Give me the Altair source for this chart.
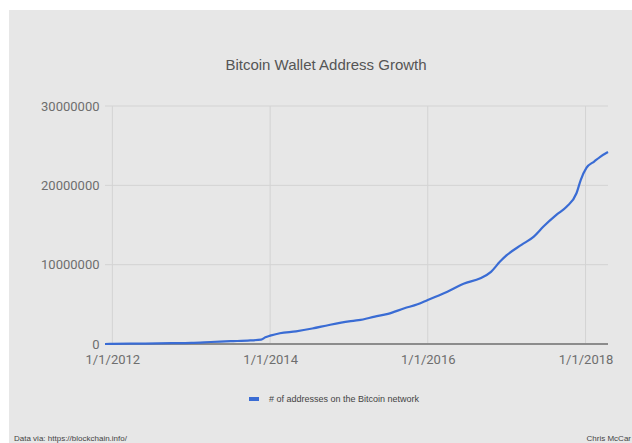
import altair as alt
import pandas as pd

dates = [
    "2011-11-28", "2012-01-01", "2012-06-01", "2012-10-01", "2013-01-01",
    "2013-04-01", "2013-07-01", "2013-10-01", "2013-11-20", "2013-12-10",
    "2014-01-01", "2014-02-15", "2014-05-01", "2014-07-15", "2014-10-01",
    "2015-01-01", "2015-02-15", "2015-05-01", "2015-07-01", "2015-09-15",
    "2015-11-15", "2016-01-01", "2016-04-01", "2016-06-15", "2016-09-01",
    "2016-10-20", "2016-12-01", "2017-01-01", "2017-03-10", "2017-05-05",
    "2017-06-20", "2017-08-20", "2017-10-05", "2017-11-20", "2017-12-10",
    "2018-01-05", "2018-02-10", "2018-03-10", "2018-04-15",
]
values = [
    0.0, 0.02, 0.05, 0.1, 0.15,
    0.25, 0.35, 0.45, 0.55, 0.85,
    1.05, 1.35, 1.6, 1.95, 2.4,
    2.85, 3.0, 3.45, 3.8, 4.5,
    5.0, 5.55, 6.6, 7.6, 8.3,
    9.1, 10.4, 11.2, 12.5, 13.5,
    14.8, 16.3, 17.3, 19.0, 20.7,
    22.2, 23.0, 23.6, 24.2,
]
series_name = "# of addresses on the Bitcoin network"
y_ticks = [0, 10000000, 20000000, 30000000]
x_ticks = ["2012-01-01", "2014-01-01", "2016-01-01", "2018-01-01"]
title_text = "Bitcoin Wallet Address Growth"
footer_left = "Data via: https://blockchain.info/"
footer_right = "Chris McCar"

df = pd.DataFrame({
    "date": pd.to_datetime(dates),
    "value": [v * 1e6 for v in values],
    "series": series_name,
})
xt_df = pd.DataFrame({"date": pd.to_datetime(x_ticks)})
yt_df = pd.DataFrame({"value": y_ticks})
zero_df = pd.DataFrame({"value": [0]})

W, H = 503, 238
PL, PT = 105, 106

x_scale = alt.Scale(domain=["2011-11-28", "2018-04-15"])
y_scale = alt.Scale(domain=[0, 30000000], nice=False)

x_axis = alt.Axis(
    title=None,
    values=[pd.Timestamp(t).isoformat() for t in x_ticks],
    labelExpr="timeFormat(datum.value, '%-m/%-d/%Y')",
    grid=False, ticks=False, domain=False, zindex=1,
    labelFont="Roboto", labelFontSize=13, labelColor="#6e6e6e",
    labelPadding=9, labelFlush=False, labelOverlap=False,
)
y_axis = alt.Axis(
    title=None, values=y_ticks, format="d",
    grid=False, ticks=False, domain=False, zindex=1,
    labelFont="Roboto", labelFontSize=13, labelColor="#6e6e6e",
    labelPadding=6,
)

bg = alt.Chart(alt.Data(values=[{}])).mark_rect(color="#e7e7e7").encode(
    x=alt.value(9 - PL), x2=alt.value(632 - PL + 5),
    y=alt.value(10 - PT), y2=alt.value(443 - PT + 5),
)

vgrid = alt.Chart(xt_df).mark_rule(color="#d3d3d3", strokeWidth=1).encode(
    x=alt.X("date:T", scale=x_scale, axis=x_axis),
)
hgrid = alt.Chart(yt_df).mark_rule(color="#d3d3d3", strokeWidth=1).encode(
    y=alt.Y("value:Q", scale=y_scale, axis=y_axis),
)
zero = alt.Chart(zero_df).mark_rule(color="#8c8c8c", strokeWidth=2).encode(
    y=alt.Y("value:Q", scale=y_scale, axis=y_axis),
)

line = alt.Chart(df).mark_line(strokeWidth=2.2, interpolate="monotone").encode(
    x=alt.X("date:T", scale=x_scale, axis=x_axis),
    y=alt.Y("value:Q", scale=y_scale, axis=y_axis),
    color=alt.Color(
        "series:N",
        scale=alt.Scale(range=["#3a6cd4"]),
        legend=alt.Legend(
            title=None, orient="none", legendX=142, legendY=286,
            symbolType="stroke", symbolStrokeWidth=4, symbolSize=100,
            labelFont="Liberation Sans", labelFontSize=9, labelColor="#444444",
            labelOffset=8, padding=0, zindex=1,
        ),
    ),
)

def txt(s, x, y, size, color, align="left", font="Liberation Sans"):
    return alt.Chart(alt.Data(values=[{"t": s}])).mark_text(
        align=align, baseline="middle", fontSize=size, color=color, font=font,
    ).encode(text="t:N", x=alt.value(x - PL), y=alt.value(y - PT))

title = txt(title_text, 326, 65, 15, "#555555", align="center")
fl = txt(footer_left, 14, 439, 8, "#444444")
fr = txt(footer_right, 631, 439, 8, "#444444", align="right")

chart = alt.layer(bg, vgrid, hgrid, zero, line, title, fl, fr).properties(
    width=W, height=H,
    autosize=alt.AutoSizeParams(type="none"),
    padding={"left": PL, "top": PT, "right": 632 - PL - W, "bottom": 443 - PT - H},
    background="white",
).configure_view(stroke=None)

chart.save("out.html", embed_options={"renderer": "svg", "actions": False})
